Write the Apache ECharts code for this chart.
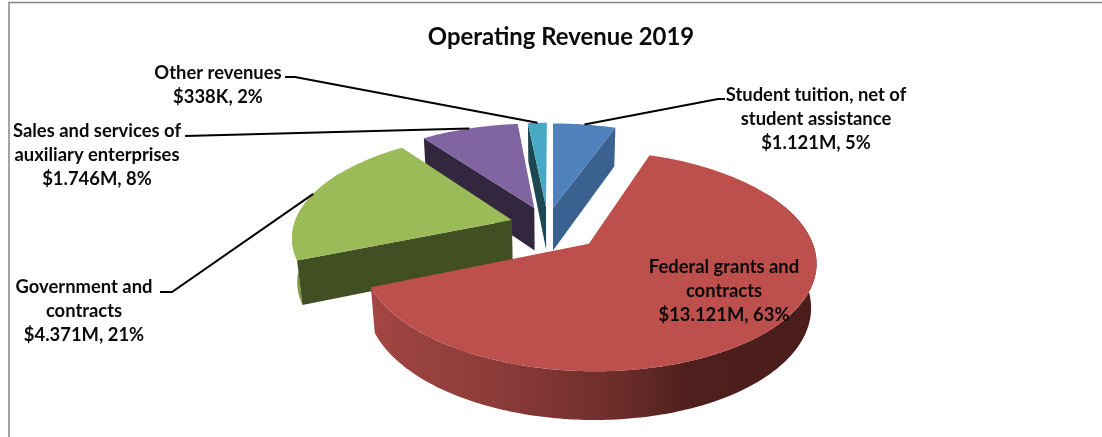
<!DOCTYPE html>
<html>
<head>
<meta charset="utf-8">
<style>html,body{margin:0;padding:0;background:#fff}#c{width:1102px;height:437px}</style>
<script src="https://cdn.jsdelivr.net/npm/echarts@6/dist/echarts.min.js"></script>
</head>
<body>
<div id="c"></div>
<script>
// ---- data ----
var titleText = 'Operating Revenue 2019';
var categories = ['Student tuition, net of\nstudent assistance', 'Federal grants and\ncontracts', 'Government and\ncontracts', 'Sales and services of\nauxiliary enterprises', 'Other revenues'];
var revenueMillions = [1.121, 13.121, 4.371, 1.746, 0.338];
var valueLabels = ['$1.121M, 5%', '$13.121M, 63%', '$4.371M, 21%', '$1.746M, 8%', '$338K, 2%'];

// ---- style and layout ----
var topColors = ['#4f81bd', '#bd4f4c', '#9bbb59', '#8064a2', '#47a9c3'];
var cutColors = ['#3a6190', '#7a3331', '#414f23', '#33273f', '#1d4751'];
var rimColors = ['#3a6190', null, '#7f9a45', '#33273f', '#1d4751'];
var explodeX = [0, 0.16, -0.19, -0.088, -0.033];
var explodeY = [0.17, -0.18, 0.049, 0.17, 0.18];
var drawOrder = [4, 3, 0, 2, 1];
var labelX = [816, 724, 84, 97, 218];
var labelY = [119, 291, 311, 155, 85];
var leaderFrom = [[[725, 99], [718, 99]], null, [[160, 292], [172, 292]], [[185, 136]], [[285, 77], [295, 77]]];
var CX = 553, CY = 225, RX = 218, RY = 102, DEPTH = 44, PERSP = 0.15, SHRINK = 0.02;
var FONT_LABEL = 'bold 18.4px Lato, sans-serif';

var total = revenueMillions.reduce(function (a, b) { return a + b; }, 0);
var startAngles = [], acc = 0;
revenueMillions.forEach(function (v) { startAngles.push(acc / total * 2 * Math.PI); acc += v; });

function project(x, y, z) {
  var w = 1 / (1 + PERSP * y + SHRINK * z);
  return [CX + RX * x * w, CY - RY * y * w + DEPTH * z * w];
}
function renderItem(params, api) {
  var i = api.value(0);
  var a1 = startAngles[i], a2 = a1 + api.value(1) / total * 2 * Math.PI;
  var ox = explodeX[i], oy = explodeY[i];
  function rim(a, z) { return project(ox + Math.sin(a), oy + Math.cos(a), z); }
  function apex(z) { return project(ox, oy, z); }
  function arc(from, to, z) {
    var pts = [], n = Math.max(6, Math.ceil((to - from) * 60));
    for (var k = 0; k <= n; k++) pts.push(rim(from + (to - from) * k / n, z));
    return pts;
  }
  var children = [];
  // outer curved wall, front-facing part only
  var w1 = Math.max(a1, Math.PI / 3), w2 = Math.min(a2, Math.PI * 5 / 3);
  if (w2 > w1) {
    var fill = rimColors[i] || {
      type: 'linear', x: 0, y: 0, x2: 1, y2: 0,
      colorStops: [
        { offset: 0, color: '#a34643' }, { offset: 0.08, color: '#9a4340' },
        { offset: 0.3, color: '#8a3a38' }, { offset: 0.55, color: '#6d2d2b' },
        { offset: 0.72, color: '#4e1f1d' }, { offset: 1, color: '#4a1d1b' }
      ]
    };
    children.push({ type: 'polygon', shape: { points: arc(w1, w2, 0).concat(arc(w1, w2, 1).reverse()) }, style: { fill: fill } });
  }
  // radial cut walls that face the viewer
  [[a1, a1 - Math.PI / 2], [a2, a2 + Math.PI / 2]].forEach(function (e) {
    if (Math.cos(e[1]) < -0.01) {
      children.push({ type: 'polygon', shape: { points: [apex(0), rim(e[0], 0), rim(e[0], 1), apex(1)] }, style: { fill: cutColors[i] } });
    }
  });
  // top surface
  children.push({ type: 'polygon', shape: { points: [apex(0)].concat(arc(a1, a2, 0)) }, style: { fill: topColors[i] } });
  // leader line ends at the mid-angle of the slice
  if (leaderFrom[i]) {
    children.push({ type: 'polyline', z2: 50, shape: { points: leaderFrom[i].concat([rim((a1 + a2) / 2, 0)]) }, style: { fill: null, stroke: '#000', lineWidth: 2 } });
  }
  children.push({ type: 'text', z2: 60, style: { text: categories[i] + '\n' + valueLabels[i], x: labelX[i], y: labelY[i], align: 'center', verticalAlign: 'middle', font: FONT_LABEL, lineHeight: 24, fill: '#0a0a0a' } });
  return { type: 'group', children: children };
}

var chart = echarts.init(document.getElementById('c'));
chart.setOption({
  animation: false,
  backgroundColor: '#fff',
  title: { text: titleText, left: 556, top: 20, textAlign: 'center', textStyle: { fontFamily: 'Lato, sans-serif', fontWeight: 'bold', fontSize: 23.9, color: '#0a0a0a' } },
  graphic: [{ type: 'polyline', shape: { points: [[9, 437], [9, 2.5], [1102, 2.5]] }, style: { fill: null, stroke: '#868686', lineWidth: 1.5 } }],
  series: [{
    type: 'custom',
    coordinateSystem: 'none',
    renderItem: renderItem,
    data: drawOrder.map(function (i) { return [i, revenueMillions[i]]; })
  }]
});
</script>
</body>
</html>
